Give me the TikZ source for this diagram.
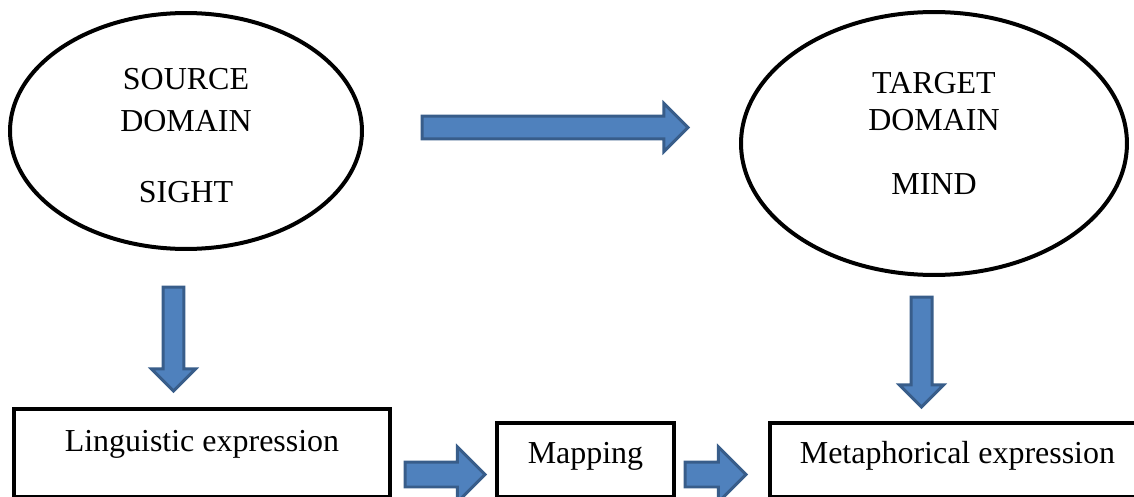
\documentclass[tikz,border=0pt]{standalone}
\usepackage{fontspec}
\setmainfont{Liberation Serif}
\usetikzlibrary{shapes.geometric,shapes.arrows}
\definecolor{arrowfill}{HTML}{4F81BD}
\definecolor{arrowedge}{HTML}{385D8A}
\begin{document}
\begin{tikzpicture}[
                x=0.02cm,y=-0.02cm,
                every node/.append style={inner sep=0pt,font=\fontsize{18.2pt}{22pt}\selectfont},
                domainoval/.style={ellipse,draw,line width=0.08cm},
                word/.style={anchor=base},
                exprbox/.style={rectangle,draw,line width=0.08cm,anchor=north west},
                blockarrow/.style={single arrow,draw=arrowedge,fill=arrowfill,line width=0.06cm,
                    inner xsep=0pt,anchor=tail,single arrow head indent=0pt}
            ]
                \useasboundingbox (0,0) rectangle (1134,497);
                % domains
                \node (S) [domainoval,minimum width=7.04cm,minimum height=4.72cm] at (186,131) {};
                \node (T) [domainoval,minimum width=7.72cm,minimum height=5.26cm] at (934,143.5) {};
                \node (S1) [word] at (186,90) {SOURCE};
                \node (S2) [word] at (186,132) {DOMAIN};
                \node (S3) [word] at (186,202) {SIGHT};
                \node (T1) [word] at (934,93) {TARGET};
                \node (T2) [word] at (934,131) {DOMAIN};
                \node (T3) [word] at (934,194) {MIND};
                % expressions
                \node (L) [exprbox,minimum width=7.52cm,text height=0.86cm,text depth=0.9cm] at (12,407) {Linguistic expression};
                \node (M) [exprbox,minimum width=3.54cm,text height=0.82cm,text depth=0.66cm] at (495,421) {Mapping};
                \node (E) [exprbox,minimum width=7.5cm,text height=0.82cm,text depth=0.66cm] at (768,421) {Metaphorical expression};
                % block arrows
                \node (ST) [blockarrow,minimum height=5.32cm,inner ysep=0.2cm,single arrow head extend=0.25cm] at (420.5,127.5) {};
                \node (SL) [blockarrow,rotate=-90,minimum height=2.08cm,inner ysep=0.18cm,single arrow head extend=0.23cm] at (173.5,285.5) {};
                \node (TE) [blockarrow,rotate=-90,minimum height=2.2cm,inner ysep=0.18cm,single arrow head extend=0.23cm] at (921.5,295.5) {};
                \node (LM) [blockarrow,minimum height=1.6cm,inner ysep=0.22cm,single arrow head extend=0.3cm] at (403.5,474.5) {};
                \node (ME) [blockarrow,minimum height=1.22cm,inner ysep=0.22cm,single arrow head extend=0.3cm] at (683.5,474.5) {};
            \end{tikzpicture}
\end{document}
